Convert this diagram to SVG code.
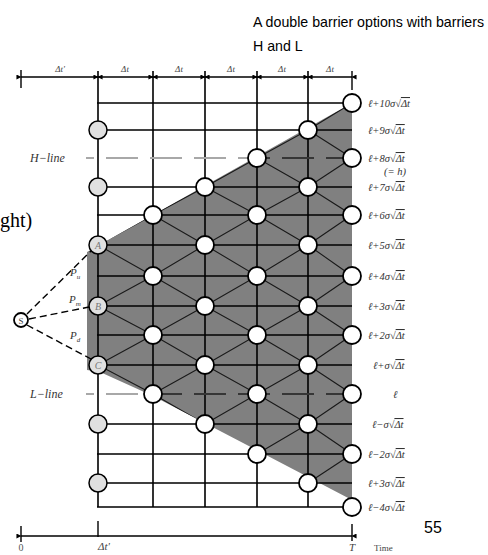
<svg xmlns="http://www.w3.org/2000/svg" width="488" height="555" viewBox="0 0 488 555">
<style>
.title{font-family:"Liberation Sans",Arial,sans-serif;font-size:14.2px;fill:#000}
.it{font-family:"Liberation Serif","Times New Roman",serif;font-style:italic}
.rl{font-family:"Liberation Serif","Times New Roman",serif;font-style:italic;font-size:10.5px;fill:#333}
.dl{font-family:"Liberation Serif","Times New Roman",serif;font-style:italic;font-size:9px;fill:#444;text-anchor:middle}
.grid{stroke:#000;stroke-width:1.6;fill:none}
.diag{stroke:#1a1a1a;stroke-width:1.1;fill:none}
.node{fill:#fff;stroke:#000;stroke-width:1.8}
.gnode{fill:#e0e0e0;stroke:#000;stroke-width:1.5}
.nl{font-family:"Liberation Serif","Times New Roman",serif;font-style:italic;font-size:10px;fill:#777;text-anchor:middle}
.ruler{stroke:#000;stroke-width:1.4;fill:none}
.ov{text-decoration:overline}
</style>
<defs>
<marker id="ah" viewBox="0 0 6 6" refX="0.5" refY="3" markerWidth="5" markerHeight="5" orient="auto-start-reverse" markerUnits="userSpaceOnUse">
<path d="M6,0 L0,3 L6,6 z" fill="#000"/>
</marker>
<clipPath id="shadeClip">
<polygon points="87,252 352,103 352,500 153,396 100,372 87,370"/>
</clipPath>
</defs>

<!-- title -->
<text class="title" x="253" y="27">A double barrier options with barriers</text>
<text class="title" x="253" y="51">H and L</text>
<text x="0" y="227" style="font-family:'Liberation Serif','Times New Roman',serif;font-size:20px">ght)</text>

<!-- shaded region -->
<polygon id="shade" points="87,252 352,103 352,500 153,396 100,372 87,370" fill="#808080"/>

<g id="connectors">
<!-- top ruler -->
<g class="ruler" marker-start="url(#ah)" marker-end="url(#ah)">
<line x1="21" y1="77" x2="98" y2="77"/>
<line x1="98" y1="77" x2="153" y2="77"/>
<line x1="153" y1="77" x2="205" y2="77"/>
<line x1="205" y1="77" x2="257" y2="77"/>
<line x1="257" y1="77" x2="308" y2="77"/>
<line x1="308" y1="77" x2="352" y2="77"/>
</g>
<path class="ruler" d="M21 70 V88 M352 71 V90"/>
<!-- bottom ruler -->
<line class="ruler" x1="21" y1="536" x2="352" y2="536" marker-start="url(#ah)" marker-end="url(#ah)"/>
<path class="ruler" d="M21 526 V542 M98 521 V537 M352 524 V541"/>

<!-- grid -->
<path class="grid" d="M98 71 V507 M153 71 V507 M205 71 V507 M257 71 V507 M308 71 V507
M97 103 H352 M97 130 H352 M97 187 H352 M97 215 H352 M97 245 H352 M97 276 H352 M97 306 H352 M97 335 H352 M97 365 H352 M97 424 H352 M97 454 H352 M97 483 H352 M97 507 H352"/>

<!-- H and L lines -->
<path d="M86 158 H352 M86 394 H352" stroke="#a8a8a8" stroke-width="2" stroke-dasharray="32 12" stroke-dashoffset="-20" fill="none"/>
<path d="M86 158 H352 M86 394 H352" stroke="#111" stroke-width="1.6" stroke-dasharray="32 12" stroke-dashoffset="-20" fill="none" clip-path="url(#shadeClip)"/>

<!-- lattice diagonals -->
<path class="diag" clip-path="url(#shadeClip)" d="
M98 245 L153 215 M98 245 L153 276 M98 306 L153 276 M98 306 L153 335 M98 365 L153 335 M98 365 L153 394
M153 215 L205 187 M153 215 L205 245 M153 276 L205 245 M153 276 L205 306 M153 335 L205 306 M153 335 L205 365 M153 394 L205 365 M153 394 L205 424
M205 187 L257 158 M205 187 L257 215 M205 245 L257 215 M205 245 L257 276 M205 306 L257 276 M205 306 L257 335 M205 365 L257 335 M205 365 L257 394 M205 424 L257 394 M205 424 L257 454
M257 158 L308 130 M257 158 L308 187 M257 215 L308 187 M257 215 L308 245 M257 276 L308 245 M257 276 L308 306 M257 335 L308 306 M257 335 L308 365 M257 394 L308 365 M257 394 L308 424 M257 454 L308 424 M257 454 L308 483
M308 130 L352 103 M308 130 L352 158 M308 187 L352 158 M308 187 L352 215 M308 245 L352 215 M308 245 L352 276 M308 306 L352 276 M308 306 L352 335 M308 365 L352 335 M308 365 L352 394 M308 424 L352 394 M308 424 L352 454 M308 483 L352 454 M308 483 L352 507"/>

<!-- S branches -->
<path d="M27 314 L91 251 M29 319 L89 307 M27 325 L91 359" stroke="#000" stroke-width="1.4" stroke-dasharray="7 4" fill="none"/>
</g>

<!-- ruler labels -->
<text class="dl" x="60" y="72">Δt'</text>
<text class="dl" x="125" y="72">Δt</text>
<text class="dl" x="179" y="72">Δt</text>
<text class="dl" x="231" y="72">Δt</text>
<text class="dl" x="282" y="72">Δt</text>
<text class="dl" x="330" y="72">Δt</text>

<text class="it" x="30" y="162" style="font-size:12px;fill:#333">H−line</text>
<text class="it" x="30" y="398" style="font-size:12px;fill:#333">L−line</text>

<text class="it" x="70" y="276" style="font-size:11px;fill:#333">P<tspan dy="3" style="font-size:7px">u</tspan></text>
<text class="it" x="69" y="303" style="font-size:11px;fill:#333">P<tspan dy="3" style="font-size:7px">m</tspan></text>
<text class="it" x="70" y="339" style="font-size:11px;fill:#333">P<tspan dy="3" style="font-size:7px">d</tspan></text>

<!-- nodes -->
<g id="n-S"><circle cx="21" cy="320" r="7" class="node"/><text x="21" y="323.5" style="font-family:'Liberation Serif',serif;font-size:9px;fill:#444;text-anchor:middle">S</text></g>
<g id="col0">
<circle id="n0-9" cx="98" cy="130" r="9" class="gnode"/>
<circle id="n0-7" cx="98" cy="187" r="9" class="gnode"/>
<g id="n-A"><circle cx="98" cy="245" r="9" class="gnode"/><text class="nl" x="98" y="249">A</text></g>
<g id="n-B"><circle cx="98" cy="306" r="9" class="gnode"/><text class="nl" x="98" y="310">B</text></g>
<g id="n-C"><circle cx="98" cy="365" r="9" class="gnode"/><text class="nl" x="98" y="369">C</text></g>
<circle id="n0-m1" cx="98" cy="424" r="9" class="gnode"/>
<circle id="n0-m3" cx="98" cy="483" r="9" class="gnode"/>
</g>
<g id="col1">
<circle cx="153" cy="215" r="9" class="node"/>
<circle cx="153" cy="276" r="9" class="node"/>
<circle cx="153" cy="335" r="9" class="node"/>
<circle cx="153" cy="394" r="9" class="node"/>
</g>
<g id="col2">
<circle cx="205" cy="187" r="9" class="node"/>
<circle cx="205" cy="245" r="9" class="node"/>
<circle cx="205" cy="306" r="9" class="node"/>
<circle cx="205" cy="365" r="9" class="node"/>
<circle cx="205" cy="424" r="9" class="node"/>
</g>
<g id="col3">
<circle cx="257" cy="158" r="9" class="node"/>
<circle cx="257" cy="215" r="9" class="node"/>
<circle cx="257" cy="276" r="9" class="node"/>
<circle cx="257" cy="335" r="9" class="node"/>
<circle cx="257" cy="394" r="9" class="node"/>
<circle cx="257" cy="454" r="9" class="node"/>
</g>
<g id="col4">
<circle cx="308" cy="130" r="9" class="node"/>
<circle cx="308" cy="187" r="9" class="node"/>
<circle cx="308" cy="245" r="9" class="node"/>
<circle cx="308" cy="306" r="9" class="node"/>
<circle cx="308" cy="365" r="9" class="node"/>
<circle cx="308" cy="424" r="9" class="node"/>
<circle cx="308" cy="483" r="9" class="node"/>
</g>
<g id="col5">
<circle cx="352" cy="103" r="9" class="node"/>
<circle cx="352" cy="158" r="9" class="node"/>
<circle cx="352" cy="215" r="9" class="node"/>
<circle cx="352" cy="276" r="9" class="node"/>
<circle cx="352" cy="335" r="9" class="node"/>
<circle cx="352" cy="394" r="9" class="node"/>
<circle cx="352" cy="454" r="9" class="node"/>
<circle cx="352" cy="507" r="9" class="node"/>
</g>

<!-- level labels -->
<g id="levels">
<text class="rl" x="368" y="107">ℓ+10σ√<tspan class="ov">Δt</tspan></text>
<text class="rl" x="368" y="134">ℓ+9σ√<tspan class="ov">Δt</tspan></text>
<text class="rl" x="368" y="162">ℓ+8σ√<tspan class="ov">Δt</tspan></text>
<text class="rl" x="384" y="175">(= h)</text>
<text class="rl" x="368" y="191">ℓ+7σ√<tspan class="ov">Δt</tspan></text>
<text class="rl" x="368" y="219">ℓ+6σ√<tspan class="ov">Δt</tspan></text>
<text class="rl" x="368" y="249">ℓ+5σ√<tspan class="ov">Δt</tspan></text>
<text class="rl" x="368" y="280">ℓ+4σ√<tspan class="ov">Δt</tspan></text>
<text class="rl" x="368" y="310">ℓ+3σ√<tspan class="ov">Δt</tspan></text>
<text class="rl" x="368" y="339">ℓ+2σ√<tspan class="ov">Δt</tspan></text>
<text class="rl" x="373" y="369">ℓ+σ√<tspan class="ov">Δt</tspan></text>
<text class="rl" x="393" y="398">ℓ</text>
<text class="rl" x="372" y="428">ℓ−σ√<tspan class="ov">Δt</tspan></text>
<text class="rl" x="368" y="458">ℓ−2σ√<tspan class="ov">Δt</tspan></text>
<text class="rl" x="368" y="487">ℓ+3σ√<tspan class="ov">Δt</tspan></text>
<text class="rl" x="368" y="511">ℓ−4σ√<tspan class="ov">Δt</tspan></text>
</g>

<!-- bottom labels -->
<text x="21" y="551" style="font-family:'Liberation Serif',serif;font-size:10px;fill:#555;text-anchor:middle">0</text>
<text class="it" x="104" y="550" style="font-size:11px;fill:#444;text-anchor:middle">Δt'</text>
<text class="it" x="352" y="551" style="font-size:11px;fill:#444;text-anchor:middle">T</text>
<text x="374" y="551" style="font-family:'Liberation Serif',serif;font-size:9px;fill:#444">Time</text>
<text x="424" y="533" style="font-family:'Liberation Sans',Arial,sans-serif;font-size:16px;fill:#000">55</text>
</svg>
